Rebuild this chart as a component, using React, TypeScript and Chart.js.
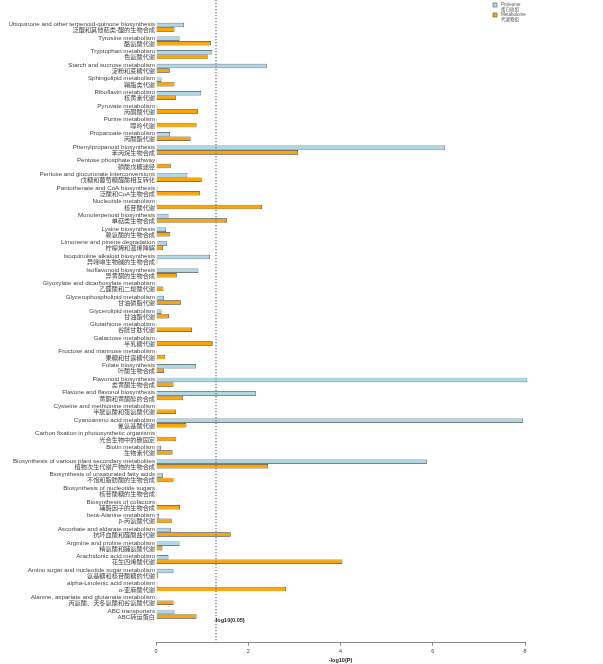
import React, { useEffect, useRef } from "react";
import { Chart, registerables } from "chart.js";

Chart.register(...registerables);

const categoriesEn: string[] = [
  "Ubiquinone and other terpenoid-quinone biosynthesis",
  "Tyrosine metabolism",
  "Tryptophan metabolism",
  "Starch and sucrose metabolism",
  "Sphingolipid metabolism",
  "Riboflavin metabolism",
  "Pyruvate metabolism",
  "Purine metabolism",
  "Propanoate metabolism",
  "Phenylpropanoid biosynthesis",
  "Pentose phosphate pathway",
  "Pentose and glucuronate interconversions",
  "Pantothenate and CoA biosynthesis",
  "Nucleotide metabolism",
  "Monoterpenoid biosynthesis",
  "Lysine biosynthesis",
  "Limonene and pinene degradation",
  "Isoquinoline alkaloid biosynthesis",
  "Isoflavonoid biosynthesis",
  "Glyoxylate and dicarboxylate metabolism",
  "Glycerophospholipid metabolism",
  "Glycerolipid metabolism",
  "Glutathione metabolism",
  "Galactose metabolism",
  "Fructose and mannose metabolism",
  "Folate biosynthesis",
  "Flavonoid biosynthesis",
  "Flavone and flavonol biosynthesis",
  "Cysteine and methionine metabolism",
  "Cyanoamino acid metabolism",
  "Carbon fixation in photosynthetic organisms",
  "Biotin metabolism",
  "Biosynthesis of various plant secondary metabolites",
  "Biosynthesis of unsaturated fatty acids",
  "Biosynthesis of nucleotide sugars",
  "Biosynthesis of cofactors",
  "beta-Alanine metabolism",
  "Ascorbate and aldarate metabolism",
  "Arginine and proline metabolism",
  "Arachidonic acid metabolism",
  "Amino sugar and nucleotide sugar metabolism",
  "alpha-Linolenic acid metabolism",
  "Alanine, aspartate and glutamate metabolism",
  "ABC transporters",
];

const categoriesZh: string[] = [
  "泛醌和其他萜类-醌的生物合成",
  "酪氨酸代谢",
  "色氨酸代谢",
  "淀粉和蔗糖代谢",
  "鞘脂类代谢",
  "核黄素代谢",
  "丙酮酸代谢",
  "嘌呤代谢",
  "丙酸酯代谢",
  "苯丙烷生物合成",
  "磷酸戊糖途径",
  "戊糖和葡萄糖醛酸相互转化",
  "泛酸和CoA生物合成",
  "核苷酸代谢",
  "单萜类生物合成",
  "赖氨酸的生物合成",
  "柠檬烯和蒎烯降解",
  "异喹啉生物碱的生物合成",
  "异黄酮的生物合成",
  "乙醛酸和二羧酸代谢",
  "甘油磷脂代谢",
  "甘油酯代谢",
  "谷胱甘肽代谢",
  "半乳糖代谢",
  "果糖和甘露糖代谢",
  "叶酸生物合成",
  "类黄酮生物合成",
  "黄酮和黄酮醇的合成",
  "半胱氨酸和蛋氨酸代谢",
  "氰氨基酸代谢",
  "光合生物中的碳固定",
  "生物素代谢",
  "植物次生代谢产物的生物合成",
  "不饱和脂肪酸的生物合成",
  "核苷酸糖的生物合成",
  "辅酶因子的生物合成",
  "β-丙氨酸代谢",
  "抗坏血酸和醛酸盐代谢",
  "精氨酸和脯氨酸代谢",
  "花生四烯酸代谢",
  "氨基糖和核苷酸糖的代谢",
  "α-亚麻酸代谢",
  "丙氨酸、天冬氨酸和谷氨酸代谢",
  "ABC转运蛋白",
];

// -log10(P) values
const proteome: number[] = [
  0.61, 0.51, 1.22, 2.4, 0.12, 0.98, 0.03, 0.02, 0.3, 6.27,
  0.02, 0.68, 0.03, 0.02, 0.27, 0.22, 0.24, 1.17, 0.92, 0.02,
  0.17, 0.12, 0.02, 0.02, 0.02, 0.87, 8.05, 2.17, 0.02, 7.96,
  0.02, 0.11, 5.87, 0.15, 0.02, 0.02, 0.07, 0.32, 0.51, 0.27,
  0.38, 0.03, 0.02, 0.4,
];

const metabolome: number[] = [
  0.4, 1.19, 1.12, 0.3, 0.4, 0.43, 0.91, 0.88, 0.75, 3.08,
  0.32, 0.99, 0.95, 2.3, 1.54, 0.31, 0.15, 0.03, 0.45, 0.16,
  0.54, 0.28, 0.78, 1.23, 0.2, 0.17, 0.38, 0.59, 0.43, 0.66,
  0.44, 0.36, 2.43, 0.38, 0.02, 0.52, 0.34, 1.62, 0.14, 4.04,
  0.05, 2.82, 0.38, 0.88,
];

const seriesNames: string[] = ["Proteome", "Metabolome"];
const seriesNamesZh: string[] = ["蛋白质组", "代谢物组"];
const seriesColors: string[] = ["#ADD8E6", "#FFA500"];
const xTickValues: number[] = [0, 2, 4, 6, 8];
const thresholdP = 0.05;
const thresholdLabel = "-log10(0.05)";
const xTitle = "-log10(P)";

const FONT = '"Liberation Sans", "Noto Sans CJK SC", Arial, sans-serif';

export default function App() {
  const canvasRef = useRef<HTMLCanvasElement | null>(null);

  useEffect(() => {
    if (!canvasRef.current) return;
    const threshold = -Math.log10(thresholdP);
    const n = categoriesEn.length;

    const overlayPlugin = {
      id: "overlay",
      afterDatasetsDraw(chart: any) {
        const { ctx, chartArea, scales } = chart;
        const px = scales.x.getPixelForValue(threshold);
        ctx.save();
        ctx.strokeStyle = "#777";
        ctx.lineWidth = 1.3;
        ctx.setLineDash([1.3, 1.7]);
        ctx.beginPath();
        ctx.moveTo(px, chartArea.top);
        ctx.lineTo(px, chartArea.bottom);
        ctx.stroke();
        ctx.setLineDash([]);
        ctx.fillStyle = "#222";
        ctx.font = `bold 5.5px ${FONT}`;
        ctx.textAlign = "left";
        ctx.textBaseline = "middle";
        ctx.fillText(thresholdLabel, px - 2, scales.y.getPixelForValue(n - 0.5));
        ctx.restore();
      },
      afterDraw(chart: any) {
        const { ctx, chartArea } = chart;
        ctx.save();
        const x0 = chartArea.right - 32;
        seriesNames.forEach((name, i) => {
          const top = chartArea.top + 3 + i * 10;
          ctx.fillStyle = seriesColors[i];
          ctx.fillRect(x0, top, 4, 4);
          ctx.strokeStyle = "#555";
          ctx.lineWidth = 0.6;
          ctx.strokeRect(x0, top, 4, 4);
          ctx.fillStyle = "#555";
          ctx.font = `4.5px ${FONT}`;
          ctx.textAlign = "left";
          ctx.textBaseline = "middle";
          ctx.fillText(name, x0 + 8, top + 1.5);
          ctx.fillText(seriesNamesZh[i], x0 + 8, top + 6.5);
        });
        ctx.restore();
      },
    };

    const chart = new Chart(canvasRef.current, {
      type: "bar",
      data: {
        datasets: [
          {
            label: seriesNames[0],
            data: proteome.map((v, i) => ({ x: v, y: i })),
            backgroundColor: seriesColors[0],
            borderColor: "#333",
            borderWidth: 0.7,
            clip: false as any,
          },
          {
            label: seriesNames[1],
            data: metabolome.map((v, i) => ({ x: v, y: i })),
            backgroundColor: seriesColors[1],
            borderColor: "#333",
            borderWidth: 0.7,
            clip: false as any,
          },
        ],
      },
      plugins: [overlayPlugin],
      options: {
        indexAxis: "y",
        animation: false,
        responsive: true,
        maintainAspectRatio: false,
        layout: { padding: { top: 0, right: 78, bottom: 0, left: 0 } },
        datasets: {
          bar: { categoryPercentage: 0.66, barPercentage: 1.0 },
        },
        plugins: {
          legend: { display: false },
          tooltip: { enabled: false },
        },
        scales: {
          x: {
            type: "linear",
            position: "bottom",
            min: 0,
            max: 8,
            afterBuildTicks: (scale: any) => {
              scale.ticks = xTickValues.map((v) => ({ value: v }));
            },
            grid: {
              display: true,
              drawOnChartArea: false,
              drawTicks: true,
              tickLength: 3,
              color: "#888",
            },
            border: { display: true, color: "#888", width: 1 },
            ticks: {
              color: "#444",
              font: { family: FONT, size: 5.5 },
              padding: 2,
            },
            title: {
              display: true,
              text: xTitle,
              color: "#222",
              font: { family: FONT, size: 5.5, weight: "bold" },
              padding: { top: 1, bottom: 0 },
            },
          },
          y: {
            type: "linear",
            reverse: true,
            offset: false,
            min: -2,
            max: n + 1.1,
            afterBuildTicks: (scale: any) => {
              scale.ticks = categoriesEn.map((_, i) => ({ value: i }));
            },
            afterFit: (scale: any) => {
              scale.width = 156;
              scale.paddingTop = 0;
              scale.paddingBottom = 0;
            },
            grid: { display: false, drawTicks: false, offset: false },
            border: { display: false },
            ticks: {
              autoSkip: false,
              color: "#444",
              padding: 1,
              font: { family: FONT, size: 6.2, lineHeight: 1.0 },
              callback: (v: any) => {
                const i = Math.round(Number(v));
                return [categoriesEn[i], categoriesZh[i]];
              },
            },
          },
        },
      } as any,
    });

    return () => chart.destroy();
  }, []);

  return (
    <div style={{ position: "absolute", left: 0, top: 0, width: 603, height: 664, background: "#fff" }}>
      <canvas ref={canvasRef} />
    </div>
  );
}
